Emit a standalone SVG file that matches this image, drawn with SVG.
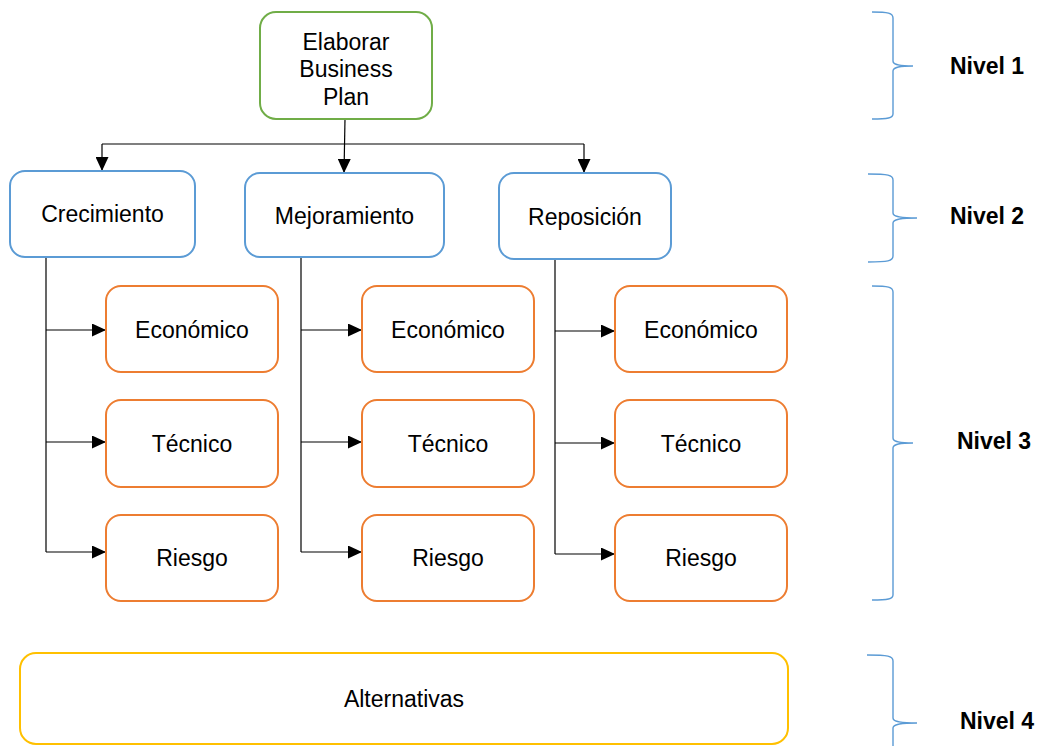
<svg xmlns="http://www.w3.org/2000/svg" width="1041" height="746" viewBox="0 0 1041 746">
<style>
.node rect{fill:#fff;stroke-width:2}
.g rect{stroke:#70AD47}
.b rect{stroke:#5B9BD5}
.o rect{stroke:#ED7D31}
.y rect{stroke:#FFC000}
text{font-family:"Liberation Sans",Arial,sans-serif;font-size:23px;fill:#000;text-anchor:middle}
.lvl{font-weight:bold;text-anchor:start}
.conn path{fill:none;stroke:#000;stroke-width:1.2}
.brace{fill:none;stroke:#5B9BD5;stroke-width:1.4}
</style>
<defs>
<marker id="arr" markerUnits="userSpaceOnUse" markerWidth="14" markerHeight="13" refX="14" refY="6.5" orient="auto">
<path d="M0,0 L14,6.5 L0,13 z" fill="#000"/>
</marker>
</defs>
<rect width="1041" height="746" fill="#fff"/>

<g class="conn">
<path d="M345,119 L344,173" marker-end="url(#arr)"/>
<path d="M102,144 L584,144"/>
<path d="M102,144 L102,171" marker-end="url(#arr)"/>
<path d="M584,144 L584,173" marker-end="url(#arr)"/>
<path d="M46,257 L46,552"/>
<path d="M46,330 L106,330" marker-end="url(#arr)"/>
<path d="M46,442 L106,442" marker-end="url(#arr)"/>
<path d="M46,552 L106,552" marker-end="url(#arr)"/>
<path d="M301,257 L301,552"/>
<path d="M301,330 L362,330" marker-end="url(#arr)"/>
<path d="M301,442 L362,442" marker-end="url(#arr)"/>
<path d="M301,552 L362,552" marker-end="url(#arr)"/>
<path d="M555,259 L555,554"/>
<path d="M555,331 L615,331" marker-end="url(#arr)"/>
<path d="M555,443 L615,443" marker-end="url(#arr)"/>
<path d="M555,554 L615,554" marker-end="url(#arr)"/>
</g>

<g id="n-elaborar" class="node g">
<rect x="260" y="12" width="172" height="107" rx="16"/>
<text x="346" y="50">Elaborar</text>
<text x="346" y="77">Business</text>
<text x="346" y="105">Plan</text>
</g>
<g id="n-crecimiento" class="node b">
<rect x="10" y="171" width="185" height="86" rx="15"/>
<text x="102.5" y="222">Crecimiento</text>
</g>
<g id="n-mejoramiento" class="node b">
<rect x="245" y="173" width="199" height="84" rx="15"/>
<text x="344.5" y="224">Mejoramiento</text>
</g>
<g id="n-reposicion" class="node b">
<rect x="499" y="173" width="172" height="86" rx="15"/>
<text x="585" y="225">Reposición</text>
</g>

<g id="n-eco1" class="node o"><rect x="106" y="286" width="172" height="86" rx="15"/><text x="192" y="338">Económico</text></g>
<g id="n-tec1" class="node o"><rect x="106" y="400" width="172" height="87" rx="15"/><text x="192" y="452">Técnico</text></g>
<g id="n-rie1" class="node o"><rect x="106" y="515" width="172" height="86" rx="15"/><text x="192" y="566">Riesgo</text></g>

<g id="n-eco2" class="node o"><rect x="362" y="286" width="172" height="86" rx="15"/><text x="448" y="338">Económico</text></g>
<g id="n-tec2" class="node o"><rect x="362" y="400" width="172" height="87" rx="15"/><text x="448" y="452">Técnico</text></g>
<g id="n-rie2" class="node o"><rect x="362" y="515" width="172" height="86" rx="15"/><text x="448" y="566">Riesgo</text></g>

<g id="n-eco3" class="node o"><rect x="615" y="286" width="172" height="86" rx="15"/><text x="701" y="338">Económico</text></g>
<g id="n-tec3" class="node o"><rect x="615" y="400" width="172" height="87" rx="15"/><text x="701" y="452">Técnico</text></g>
<g id="n-rie3" class="node o"><rect x="615" y="515" width="172" height="86" rx="15"/><text x="701" y="566">Riesgo</text></g>

<g id="n-alternativas" class="node y">
<rect x="20" y="653" width="768" height="91" rx="16"/>
<text x="404" y="707">Alternativas</text>
</g>

<g id="levels">
<path class="brace" d="M872,12 C888,12 893,13 893,18 L893,61 C893,64 896,66 913,66 C896,66 893,68 893,71 L893,114 C893,118 888,119 872,119"/>
<text class="lvl" x="950" y="74">Nivel 1</text>
<path class="brace" d="M868,174 C888,174 893,175 893,180 L893,213 C893,216 897,218 917,218 C897,218 893,220 893,223 L893,256 C893,261 888,262 868,262"/>
<text class="lvl" x="950" y="224">Nivel 2</text>
<path class="brace" d="M872,286 C888,286 893,287 893,292 L893,438 C893,441 896,443 913,443 C896,443 893,445 893,448 L893,595 C893,599 888,600 872,600"/>
<text class="lvl" x="957" y="449">Nivel 3</text>
<path class="brace" d="M867,655 C888,655 893,656 893,661 L893,718 C893,721 897,723 917,723 C897,723 893,725 893,728 L893,785 C893,790 888,791 867,791"/>
<text class="lvl" x="960" y="729">Nivel 4</text>
</g>
</svg>
